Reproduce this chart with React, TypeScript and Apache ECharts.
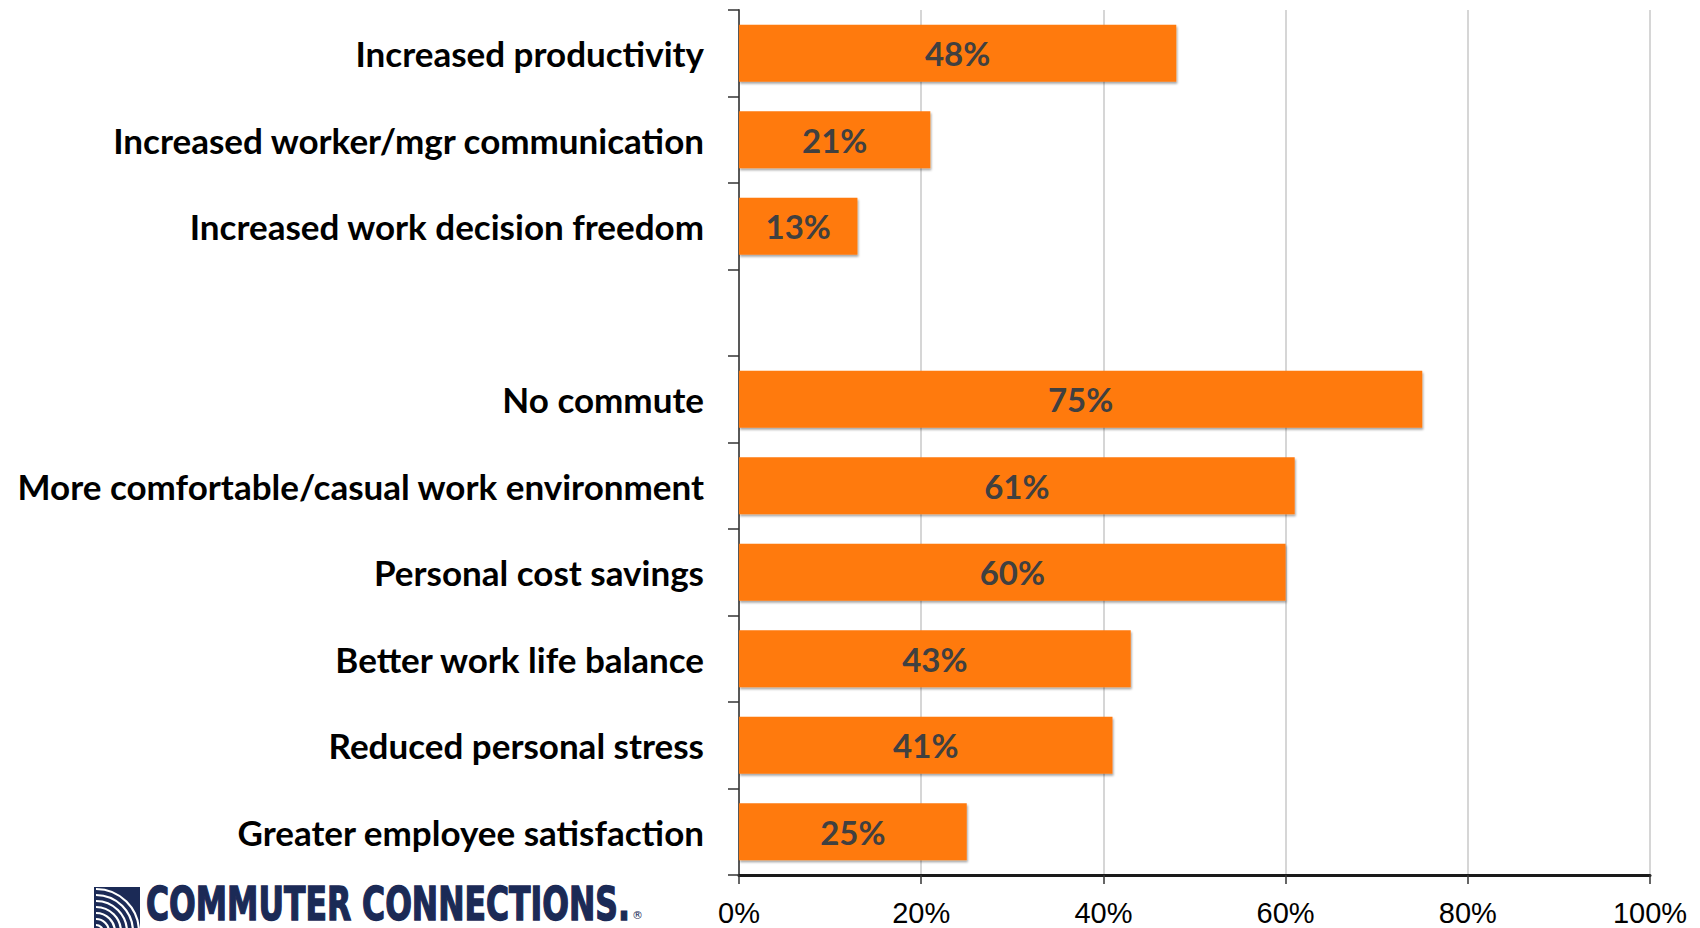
import React, { useEffect, useRef } from "react";
import * as echarts from "echarts";

const categories = [
  "Increased productivity",
  "Increased worker/mgr communication",
  "Increased work decision freedom",
  " ",
  "No commute",
  "More comfortable/casual work environment",
  "Personal cost savings",
  "Better work life balance",
  "Reduced personal stress",
  "Greater employee satisfaction",
];
const values: (number | string)[] = [48, 21, 13, "-", 75, 61, 60, 43, 41, 25];
const xTicks = { min: 0, max: 100, interval: 20 };
const logoText = "COMMUTER CONNECTIONS.";
const NAVY = "#1b2a56";
const LOGO_FONT = "bold 46px 'DejaVu Sans'";

export default function App() {
  const ref = useRef<HTMLDivElement>(null);
  useEffect(() => {
    if (!ref.current) return;
    const chart = echarts.init(ref.current, undefined, { renderer: "svg" });
    let logoScale = 0.6;
    try {
      const ctx = document.createElement("canvas").getContext("2d");
      if (ctx) {
        ctx.font = LOGO_FONT;
        const w = ctx.measureText(logoText).width;
        if (w > 0) logoScale = 484 / w;
      }
    } catch (e) {}
    const arcs = [7, 13, 19, 25, 31, 37, 43].map((r) => ({
      type: "arc",
      shape: { cx: 96, cy: 932, r, startAngle: -Math.PI / 2, endAngle: 0, clockwise: true },
      style: { stroke: "#ffffff", lineWidth: 2.2, fill: null },
      z: 11,
    }));
    chart.setOption({
      animation: false,
      backgroundColor: "#ffffff",
      grid: { left: 739, right: 50, top: 10, bottom: 53, containLabel: false },
      xAxis: {
        type: "value",
        min: xTicks.min,
        max: xTicks.max,
        interval: xTicks.interval,
        axisLine: { show: true, lineStyle: { color: "#1a1a1a", width: 3 } },
        axisTick: { show: true, length: 9, lineStyle: { color: "#333", width: 1.5 } },
        splitLine: { show: true, lineStyle: { color: "#d6d6d6", width: 2 } },
        axisLabel: {
          formatter: "{value}%",
          margin: 23,
          color: "#000",
          fontSize: 29,
          fontFamily: "'Liberation Sans Narrow', 'Liberation Sans', sans-serif",
        },
      },
      yAxis: {
        type: "category",
        inverse: true,
        data: categories,
        axisLine: { show: true, lineStyle: { color: "#595959", width: 2 } },
        axisTick: { show: true, length: 11, lineStyle: { color: "#333", width: 1.5 } },
        splitLine: { show: false },
        axisLabel: {
          margin: 35,
          color: "#000",
          fontSize: 35,
          fontWeight: "bold",
          fontFamily: "Lato, 'Open Sans', sans-serif",
        },
      },
      series: [
        {
          type: "bar",
          data: values,
          barCategoryGap: "34%",
          itemStyle: {
            color: "#FF7A10",
            shadowColor: "rgba(0,0,0,0.35)",
            shadowOffsetX: 1,
            shadowOffsetY: 2,
            shadowBlur: 2,
          },
          label: {
            show: true,
            position: "inside",
            formatter: "{c}%",
            color: "#404040",
            fontSize: 33,
            fontWeight: "bold",
            fontFamily: "Lato, 'Open Sans', sans-serif",
          },
        },
      ],
      graphic: [
        {
          type: "rect",
          shape: { x: 94, y: 887, width: 46, height: 41 },
          style: { fill: NAVY },
          z: 10,
        },
        ...arcs,
        {
          type: "text",
          x: 146,
          y: 882,
          scaleX: logoScale,
          style: {
            text: logoText,
            font: LOGO_FONT,
            fill: NAVY,
            stroke: NAVY,
            lineWidth: 1.5,
            lineHeight: 44,
            verticalAlign: "top",
          },
          z: 10,
        },
        {
          type: "text",
          x: 632,
          y: 910,
          style: { text: "®", fontSize: 11, fill: NAVY, fontFamily: "'DejaVu Sans', sans-serif" },
          z: 10,
        },
      ],
    });
    return () => chart.dispose();
  }, []);
  return (
    <div
      ref={ref}
      style={{ position: "fixed", left: 0, top: 0, width: 1700, height: 928, background: "#fff" }}
    />
  );
}
